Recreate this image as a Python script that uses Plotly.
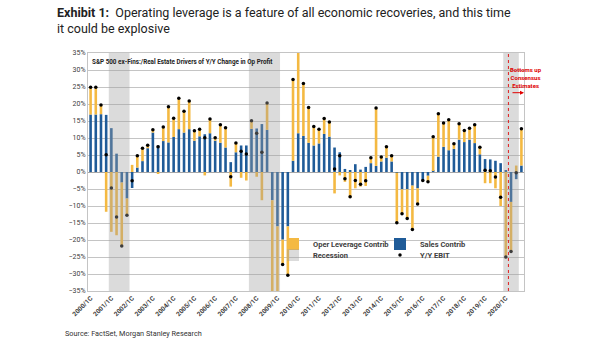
import plotly.graph_objects as go

# ---------------- data ----------------
years = list(range(2000, 2021))
quarters = [f"{y}/{q}C" for y in years for q in range(1, 5)]
tick_labels = [f"{y}/1C" for y in years]

sales_contrib = [
    16.9, 16.9, 17.0, 16.8,
    12.9, 5.4, -3.1, -7.8,
    -4.7, 1.3, 3.2, 7.0,
    11.6, 7.8, 9.1, 8.7,
    10.3, 12.6, 11.6, 12.6,
    9.2, 10.5, 11.1, 11.4,
    9.2, 8.6, 7.2, 2.9,
    5.8, 7.8, 7.8, 12.7,
    12.8, 14.1, 12.4, -8.3,
    -16.0, -19.9, -16.0, 3.3,
    11.4, 10.6, 8.6, 7.8,
    8.4, 11.2, 10.4, 7.2,
    5.8, 0.9, 0.3, 2.3,
    0.7, 1.5, 2.6, 1.8,
    3.1, 4.2, 3.1, -0.2,
    -5.1, -5.1, -4.0, -4.8,
    -2.5, -1.1, 0.3, 4.5,
    7.4, 6.4, 6.8, 9.5,
    8.8, 9.5, 8.5, 5.2,
    3.8, 3.7, 3.3, 2.6,
    0.4, -8.8, -2.1, 1.9,
]

oper_leverage_contrib = [
    8.0, 8.0, 2.7, -11.7,
    -17.6, -18.6, -18.7, -4.9,
    2.1, 3.5, 3.8, 0.9,
    0.8, -0.4, 4.1, 10.5,
    5.5, 9.1, 6.3, 8.3,
    2.9, 2.1, -1.0, 4.2,
    0.9, 5.3, 5.8, -4.3,
    2.7, -1.7, -2.5, 2.4,
    -1.4, -8.3, 7.9, -30.0,
    -24.0, -7.3, -14.4, 23.9,
    26.0, 15.4, 10.4, 5.6,
    4.2, 4.5, 4.3, -6.3,
    -1.0, -2.9, -7.6, -4.8,
    -4.3, -4.1, 1.6, 17.0,
    1.3, 3.2, 1.7, -14.7,
    -7.2, -8.6, -12.9, -4.6,
    0.0, -1.8, 10.1, 12.6,
    7.0, 9.0, 1.5, 4.7,
    3.4, 3.4, 5.4, 2.1,
    -3.3, -3.3, -4.8, -10.0,
    -25.4, -14.6, 1.9, 10.8,
]

yoy_ebit = [
    24.9, 24.9, 19.7, 5.1,
    -4.7, -13.2, -21.8, -12.7,
    -2.6, 4.8, 7.0, 7.9,
    12.4, 7.4, 13.2, 19.2,
    15.8, 21.7, 17.9, 20.9,
    12.1, 12.6, 10.1, 15.6,
    10.1, 13.9, 13.0, -1.4,
    8.5, 6.1, 5.3, 15.1,
    11.4, 5.8, 20.3, -38.3,
    -40.0, -27.2, -30.4, 27.2,
    37.4, 26.0, 19.0, 13.4,
    12.6, 15.7, 14.7, 0.9,
    4.8, -2.0, -7.3, -2.5,
    -3.6, -2.6, 4.2, 18.8,
    4.4, 7.4, 4.8, -14.9,
    -12.3, -13.7, -16.9, -9.4,
    -2.5, -2.9, 10.4, 17.1,
    14.4, 15.4, 8.3, 14.2,
    12.2, 12.9, 13.9, 7.3,
    0.5, 0.4, -1.5, -7.4,
    -25.0, -23.4, -0.2, 12.7,
]

recession_start = ["2001/1C", "2007/4C", "2020/1C"]
recession_end = ["2001/4C", "2009/1C", "2020/3C"]
estimates_start = "2020/2C"

# ---------------- style ----------------
FONT = "Roboto"
TXT = "#404040"
ORANGE = "#F4B942"
BLUE = "#1F5B98"
GRID = "#C4C4C4"

fig = go.Figure()
fig.add_trace(go.Bar(
    x=quarters, y=sales_contrib, name="Sales Contrib",
    marker=dict(color=BLUE, line=dict(width=0)), width=0.5, legend="legend2",
))
fig.add_trace(go.Bar(
    x=quarters, y=oper_leverage_contrib, name="Oper Leverage Contrib",
    marker=dict(color=ORANGE, line=dict(width=0)), width=0.5, legend="legend",
    showlegend=True,
))
fig.add_trace(go.Scatter(
    x=quarters, y=yoy_ebit, name="Y/Y EBIT", mode="markers",
    marker=dict(color="black", size=3.5), legend="legend4",
))

idx = {q: i for i, q in enumerate(quarters)}
shapes = []
for k, (s, e) in enumerate(zip(recession_start, recession_end)):
    shapes.append(dict(
        type="rect", xref="x", yref="paper",
        x0=idx[s] - 0.5, x1=idx[e] + 0.5, y0=0, y1=1,
        fillcolor="rgba(160,160,160,0.38)", line=dict(width=0), layer="above",
        name="Recession", showlegend=(k == 0), legend="legend3",
    ))
shapes.append(dict(
    type="line", xref="x", yref="paper",
    x0=idx[estimates_start] - 0.5, x1=idx[estimates_start] - 0.5, y0=0, y1=1,
    line=dict(color="#E02020", width=1, dash="dot"), layer="above",
))

L, R, T, B = 88, 81, 53, 50
pw = 605 - L - R
ph = 341 - T - B


def px_x(p):
    return (p - L) / pw


def px_y(p):
    return (341 - B - p) / ph


leg_font = dict(family=FONT, size=7.5, color=TXT, weight="bold")
common_leg = dict(xanchor="left", yanchor="middle", bgcolor="rgba(0,0,0,0)",
                  font=leg_font, borderwidth=0)

fig.update_layout(
    width=605, height=341,
    margin=dict(l=L, r=R, t=T, b=B),
    paper_bgcolor="white", plot_bgcolor="white",
    barmode="relative", bargap=0.5, showlegend=True,
    xaxis=dict(
        type="category", categoryorder="array", categoryarray=quarters,
        range=[-0.5, len(quarters) - 0.5],
        tickmode="array", tickvals=tick_labels, ticktext=tick_labels,
        tickangle=-45, tickfont=dict(family=FONT, size=6.5, color=TXT, weight="bold"),
        showgrid=False, showline=True, linecolor=GRID, linewidth=1, mirror=True,
        ticks="",
    ),
    yaxis=dict(
        range=[-35, 35], dtick=5, ticksuffix="%",
        tickfont=dict(family=FONT, size=7, color=TXT),
        showgrid=True, gridcolor=GRID, gridwidth=1,
        zeroline=True, zerolinecolor="#A6A6A6", zerolinewidth=1,
        showline=True, linecolor=GRID, linewidth=1, mirror=True,
        ticks="",
    ),
    shapes=shapes,
    legend=dict(x=px_x(273), y=px_y(244), **common_leg),
    legend2=dict(x=px_x(380), y=px_y(244), **common_leg),
    legend3=dict(x=px_x(273), y=px_y(255), **common_leg),
    legend4=dict(x=px_x(380), y=px_y(255), **common_leg),
    annotations=[
        dict(text="<b>Exhibit 1:</b>  Operating leverage is a feature of all economic recoveries, and this time<br>it could be explosive",
             xref="paper", yref="paper", x=px_x(55), y=px_y(3), xanchor="left", yanchor="top",
             align="left", showarrow=False,
             font=dict(family="Liberation Sans Narrow, " + FONT, size=12.5, color="#222222")),
        dict(text="<b>S&P 500 ex-Fins:/Real Estate Drivers of Y/Y Change in Op Profit</b>",
             xref="paper", yref="paper", x=px_x(90), y=px_y(62), xanchor="left", yanchor="middle",
             showarrow=False, font=dict(family=FONT, size=6.3, color="#222222")),
        dict(text="<b>Bottoms up<br>Consensus<br>Estimates</b>",
             xref="paper", yref="paper", x=px_x(525.5), y=px_y(78), xanchor="center", yanchor="middle",
             showarrow=False, font=dict(family=FONT, size=6, color="#E00000")),
        dict(text="", xref="paper", yref="paper", x=px_x(524), y=px_y(92.7),
             ax=-13, ay=0, showarrow=True, arrowhead=2, arrowsize=0.8, arrowwidth=1,
             arrowcolor="#E00000"),
        dict(text="Source: FactSet, Morgan Stanley Research",
             xref="paper", yref="paper", x=px_x(63), y=px_y(333), xanchor="left", yanchor="middle",
             showarrow=False, font=dict(family=FONT, size=7.3, color="#333333")),
    ],
)

fig.write_html("out.html")
